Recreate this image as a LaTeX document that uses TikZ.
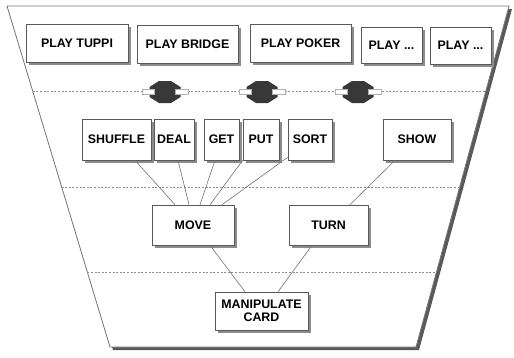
\documentclass[tikz,border=0pt]{standalone}
\usepackage{fontspec}
\setmainfont{Liberation Sans}
\usetikzlibrary{shadows,calc}
\tikzset{
  box/.style={draw=black!65, line width=0.6pt, fill=white, inner sep=0pt, align=center,
    font=\fontsize{12.4}{13.5}\selectfont\bfseries,
    drop shadow={shadow xshift=3pt, shadow yshift=-3pt, fill=black!45, opacity=1}},
  link/.style={draw=black!55, line width=0.6pt},
  sep/.style={draw=black!45, line width=0.6pt, dash pattern=on 2pt off 1.6pt},
  frame/.style={draw=black!55, line width=0.8pt, fill=white,
    drop shadow={shadow xshift=3pt, shadow yshift=-3pt, fill=black!65, opacity=1}},
  connfill/.style={fill=black!78},
  portst/.style={draw=black!30, line width=0.5pt, fill=white},
  conn/.pic={
    \fill[connfill] (-15.5,-5) -- (-6,-11) -- (6,-11) -- (15.5,-5) -- (15.5,5) -- (6,11) -- (-6,11) -- (-15.5,5) -- cycle;
    \draw[portst] (-23,-2.5) rectangle (-10.5,2.5);
    \draw[portst] (10.5,-2.5) rectangle (23,2.5);
  }
}
\begin{document}
\begin{tikzpicture}[x=1pt,y=-1pt]
\useasboundingbox (0,0) rectangle (514,357);
% frame
\coordinate (tl) at (7,6);
\coordinate (tr) at (509,6);
\coordinate (br) at (416,347);
\coordinate (bl) at (110,347);
\path[frame] (tl) -- (tr) -- (br) -- (bl) -- cycle;
% separators
\draw[sep] ($(tl)!0.251!(bl)$) -- ($(tr)!0.251!(br)$);
\draw[sep] ($(tl)!0.531!(bl)$) -- ($(tr)!0.531!(br)$);
\draw[sep] ($(tl)!0.780!(bl)$) -- ($(tr)!0.780!(br)$);
% connectors on top separator
\pic at (165,92) {conn};
\pic at (262,92) {conn};
\pic at (358,92) {conn};
% top row
\node[box, minimum width=102pt, minimum height=38pt] (tuppi) at (77,43) {PLAY TUPPI};
\node[box, minimum width=101pt, minimum height=38pt] (bridge) at (187.5,44) {PLAY BRIDGE};
\node[box, minimum width=101pt, minimum height=38pt] (poker) at (300.5,43) {PLAY POKER};
\node[box, minimum width=61pt, minimum height=36pt] (playa) at (391.5,45) {PLAY ...};
\node[box, minimum width=61pt, minimum height=37pt] (playb) at (460.5,45.5) {PLAY ...};
% middle row
\node[box, minimum width=69pt, minimum height=41pt] (shuffle) at (116.5,139.5) {SHUFFLE};
\node[box, minimum width=40pt, minimum height=41pt] (deal) at (174,139.5) {DEAL};
\node[box, minimum width=35pt, minimum height=41pt] (get) at (221.5,139.5) {GET};
\node[box, minimum width=36pt, minimum height=41pt] (put) at (261,139.5) {PUT};
\node[box, minimum width=44pt, minimum height=41pt] (sort) at (310,139.5) {SORT};
\node[box, minimum width=68pt, minimum height=41pt] (show) at (417,139.5) {SHOW};
% lower rows
\node[box, minimum width=82pt, minimum height=40pt] (move) at (193,225) {MOVE};
\node[box, minimum width=79pt, minimum height=40pt] (turn) at (328.5,225) {TURN};
\node[box, minimum width=93pt, minimum height=38pt] (manip) at (261.5,311) {MANIPULATE\\CARD};
% links
\draw[link] ($(shuffle.south)+(18.5,0)$) -- ($(move.north)+(-18,0)$);
\draw[link] ($(deal.south)+(4,0)$) -- ($(move.north)+(-4,0)$);
\draw[link] ($(get.south)+(-6.5,0)$) -- ($(move.north)+(7,0)$);
\draw[link] (put.south west) -- ($(move.north)+(17,0)$);
\draw[link] ($(sort.south west)+(0,-3)$) -- ($(move.north)+(29,0)$);
\draw[link] ($(show.south)+(-22,0)$) -- ($(turn.north)+(21.5,0)$);
\draw[link] ($(move.south)+(17,0)$) -- ($(manip.north)+(-16.5,0)$);
\draw[link] ($(turn.south)+(-16.5,0)$) -- ($(manip.north)+(16.5,0)$);
\end{tikzpicture}
\end{document}
